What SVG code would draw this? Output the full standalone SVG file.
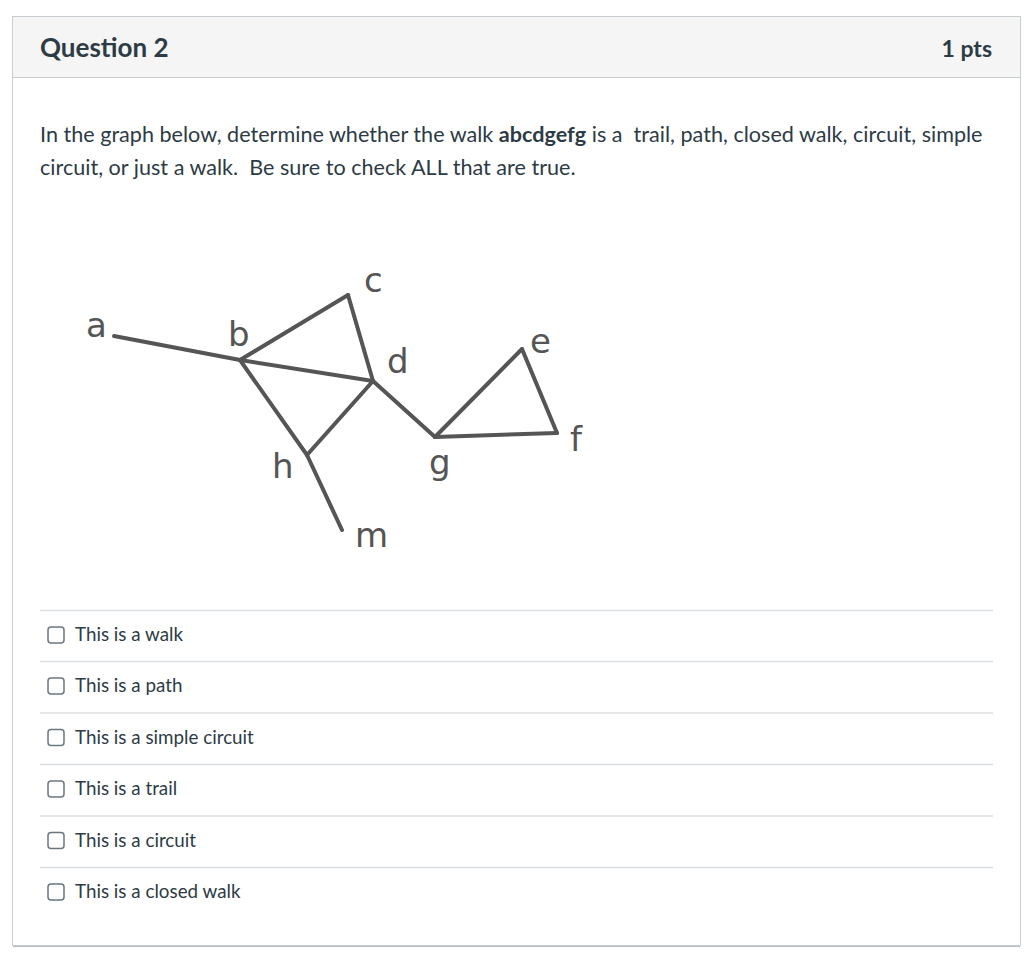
<svg xmlns="http://www.w3.org/2000/svg" width="1024" height="979" viewBox="0 0 1024 979">
<style>
.t{font-family:Lato,"Liberation Sans",sans-serif;fill:#2d3b45;white-space:pre}
.lbl{font-family:"DejaVu Sans",Verdana,sans-serif;font-size:34px;fill:#555}
.e{stroke:#555;stroke-width:4;stroke-linecap:round;fill:none}
.sep{stroke:#dcdfe2;stroke-width:1.5}
.cb{fill:#fff;stroke:#6b7780;stroke-width:1.5}
.opt{font-size:18.8px}
</style>
<rect x="0" y="0" width="1024" height="979" fill="#fff"/>
<g id="card">
<rect x="12.5" y="16.5" width="1008" height="929" fill="#fff" stroke="#c7cdd1" stroke-width="1"/>
<rect x="13" y="17" width="1007" height="60" fill="#f5f5f5"/>
<line x1="13" y1="77.5" x2="1020" y2="77.5" stroke="#c7cdd1" stroke-width="1"/>
<line x1="13" y1="946.5" x2="1020" y2="946.5" stroke="#b5bcc2" stroke-width="1"/>
<text class="t" x="40" y="57" font-size="26" font-weight="bold">Question 2</text>
<text class="t" x="992" y="57" font-size="23" font-weight="bold" text-anchor="end">1 pts</text>
<text class="t" x="40" y="142" font-size="21.6" xml:space="preserve">In the graph below, determine whether the walk <tspan font-weight="bold">abcdgefg</tspan> is a  trail, path, closed walk, circuit, simple</text>
<text class="t" x="40" y="175" font-size="21.6" xml:space="preserve">circuit, or just a walk.  Be sure to check ALL that are true.</text>
</g>
<g id="edges">
<line class="e" x1="114" y1="336" x2="240" y2="360"/>
<line class="e" x1="240" y1="360" x2="348" y2="295"/>
<line class="e" x1="348" y1="295" x2="373" y2="381"/>
<line class="e" x1="240" y1="360" x2="373" y2="381"/>
<line class="e" x1="240" y1="360" x2="307" y2="455" stroke-width="5"/>
<line class="e" x1="307" y1="455" x2="342" y2="530"/>
<line class="e" x1="307" y1="455" x2="373" y2="381"/>
<line class="e" x1="373" y1="381" x2="435" y2="437"/>
<line class="e" x1="435" y1="437" x2="522" y2="349"/>
<line class="e" x1="522" y1="349" x2="557" y2="433"/>
<line class="e" x1="557" y1="433" x2="435" y2="437"/>
</g>
<g id="node-a"><text class="lbl" x="86" y="337">a</text></g>
<g id="node-b"><text class="lbl" x="228" y="346">b</text></g>
<g id="node-c"><text class="lbl" x="364" y="292">c</text></g>
<g id="node-d"><text class="lbl" x="387" y="373">d</text></g>
<g id="node-e"><text class="lbl" x="530" y="353">e</text></g>
<g id="node-f"><text class="lbl" x="570" y="451">f</text></g>
<g id="node-g"><text class="lbl" x="429" y="474">g</text></g>
<g id="node-h"><text class="lbl" x="272" y="478">h</text></g>
<g id="node-m"><text class="lbl" x="355" y="547">m</text></g>
<g id="options">
<line class="sep" x1="40" y1="610.5" x2="993" y2="610.5"/>
<line class="sep" x1="40" y1="661.5" x2="993" y2="661.5"/>
<line class="sep" x1="40" y1="713" x2="993" y2="713"/>
<line class="sep" x1="40" y1="764.5" x2="993" y2="764.5"/>
<line class="sep" x1="40" y1="816" x2="993" y2="816"/>
<line class="sep" x1="40" y1="867.5" x2="993" y2="867.5"/>
<rect class="cb" x="48" y="627" width="16" height="16" rx="3"/>
<text class="t opt" x="75" y="641">This is a walk</text>
<rect class="cb" x="48" y="678" width="16" height="16" rx="3"/>
<text class="t opt" x="75" y="692">This is a path</text>
<rect class="cb" x="48" y="729.5" width="16" height="16" rx="3"/>
<text class="t opt" x="75" y="743.5">This is a simple circuit</text>
<rect class="cb" x="48" y="781" width="16" height="16" rx="3"/>
<text class="t opt" x="75" y="795">This is a trail</text>
<rect class="cb" x="48" y="832.5" width="16" height="16" rx="3"/>
<text class="t opt" x="75" y="846.5">This is a circuit</text>
<rect class="cb" x="48" y="884" width="16" height="16" rx="3"/>
<text class="t opt" x="75" y="898">This is a closed walk</text>
</g>
</svg>
